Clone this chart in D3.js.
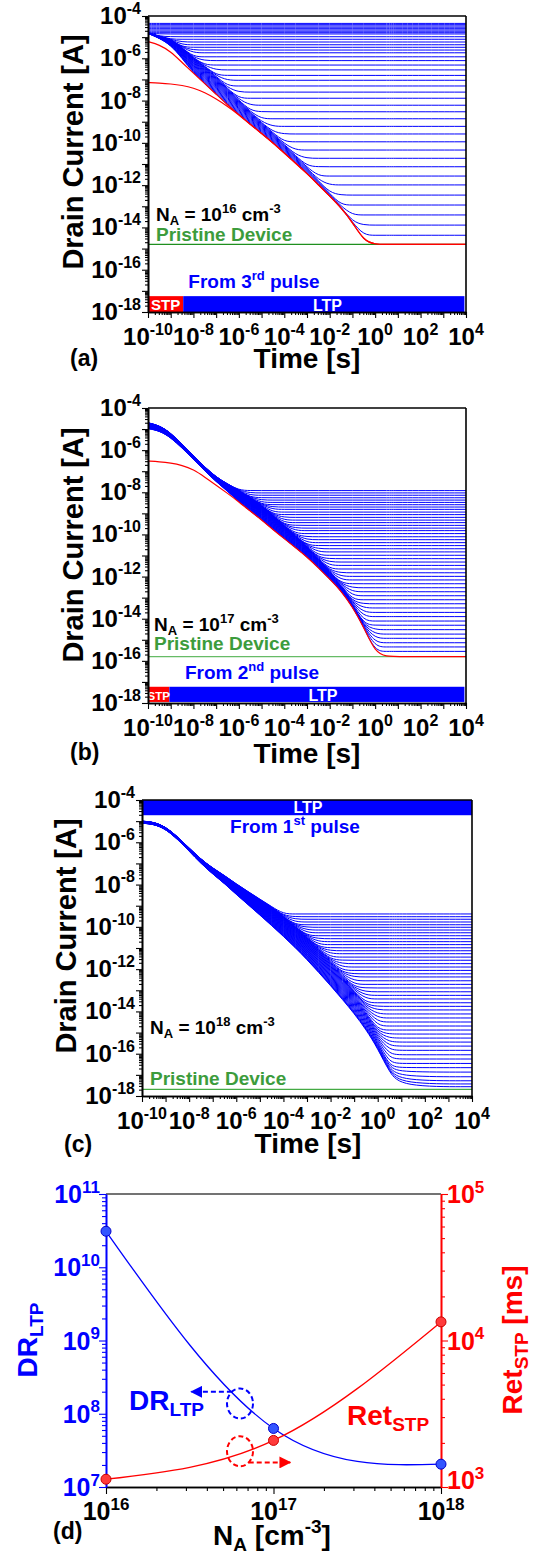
<!DOCTYPE html>
<html>
<head>
<meta charset="utf-8">
<script src="https://cdn.jsdelivr.net/npm/d3@7"></script>
<style>
  body { margin: 0; background: #fff; }
  svg { display: block; }
  text { font-family: "Liberation Sans", Arial, sans-serif; font-weight: bold; }
</style>
</head>
<body>
<svg id="chart" width="540" height="1557"></svg>
<script>
// ---- data (log10 of time [s] and log10 of drain current [A]) ----
const logT = [-10, -9.5, -9, -8.5, -8, -7.5, -7, -6.5, -6, -5.5, -5, -4.5, -4, -3.5, -3, -2.5, -2, -1.5, -1, -0.5, 0, 0.5, 1];

// (a) N_A = 1e16: lower / upper edge of the decaying bundle
const lowA = [-4.82, -5.05, -5.38, -6.0, -6.7, -7.2, -7.7, -8.2, -8.67, -9.12, -9.56, -10.0, -10.48, -10.96, -11.45, -11.98, -12.52, -13.07, -13.75, -14.63, -15.6, -16.8, -18];
const upA = [-4.80, -4.95, -5.08, -5.40, -5.80, -6.10, -6.50, -7.00, -7.47, -8.02, -8.46, -8.90, -9.38, -9.86, -10.35, -10.98, -11.62, -12.27, -13.15, -14.23, -15.30, -16.60, -17.80];
const stp1A = [-7.15, -7.17, -7.21, -7.28, -7.4, -7.62, -7.92, -8.27];
const stp2A = [-5.21, -5.36, -5.68, -6.2];
const ltpA = [-4.35, -4.41, -4.47, -4.53, -4.60, -4.66, -4.72, -4.79, -4.85, -4.98, -5.10, -5.23, -5.36, -5.48, -5.61, -5.74, -5.93, -6.11, -6.32, -6.55, -6.81, -7.04, -7.31, -7.60, -7.89, -8.22, -8.53, -8.86, -9.22, -9.58, -9.95, -10.34, -10.73, -11.13, -11.57, -11.99, -12.47, -12.94, -13.41, -13.89, -14.37];
const pristineA = -14.8;

// (b) N_A = 1e17
const lowB = [-4.98, -5.08, -5.4, -5.9, -6.43, -6.98, -7.5, -7.95, -8.45, -8.9, -9.3, -9.77, -10.2, -10.63, -11.07, -11.58, -12.12, -12.68, -13.43, -14.4, -15.6, -17.0, -18.3];
const upB = [-4.70, -4.83, -5.18, -5.72, -6.27, -6.80, -7.28, -7.60, -7.90, -8.20, -8.50, -8.92, -9.35, -9.78, -10.22, -10.73, -11.27, -11.83, -12.58, -13.60, -14.90, -16.50, -17.90];
const stp1B = [-6.52, -6.55, -6.61, -6.72, -6.92, -7.28, -7.66, -8.05];
const ltpB = [-7.92, -8.03, -8.14, -8.26, -8.37, -8.48, -8.59, -8.70, -8.81, -8.94, -9.06, -9.19, -9.32, -9.44, -9.57, -9.70, -9.82, -9.96, -10.11, -10.25, -10.39, -10.53, -10.68, -10.83, -10.99, -11.15, -11.31, -11.47, -11.64, -11.82, -11.99, -12.16, -12.34, -12.53, -12.72, -12.91, -13.10, -13.29, -13.49, -13.70, -13.90, -14.11, -14.31, -14.52, -14.73, -14.93, -15.14, -15.34, -15.55];
const pristineB = -15.8;

// (c) N_A = 1e18
const lowC = [-5.1, -5.14, -5.37, -5.85, -6.42, -7.0, -7.5, -7.95, -8.47, -8.95, -9.44, -9.94, -10.45, -10.98, -11.55, -12.16, -12.78, -13.43, -14.1, -14.85, -15.75, -16.9, -18.1];
const upC = [-5.00, -5.04, -5.27, -5.73, -6.27, -6.80, -7.22, -7.57, -7.97, -8.33, -8.69, -9.04, -9.45, -9.83, -10.25, -10.66, -11.08, -11.48, -11.90, -12.35, -13.15, -14.40, -15.70];
const ltpC = [-9.39, -9.52, -9.64, -9.77, -9.90, -10.02, -10.15, -10.28, -10.42, -10.56, -10.70, -10.84, -10.99, -11.13, -11.27, -11.43, -11.58, -11.74, -11.90, -12.06, -12.22, -12.37, -12.55, -12.72, -12.89, -13.07, -13.24, -13.41, -13.59, -13.76, -13.93, -14.12, -14.31, -14.50, -14.69, -14.88, -15.07, -15.26, -15.45, -15.64, -15.84, -16.05, -16.25, -16.46, -16.66, -16.87, -17.09, -17.28, -17.43, -17.56];
const pristineC = -17.69;

// (d) summary
const dopings = [1e16, 1e17, 1e18];
const drLTP = [3.1e10, 6.3e7, 2.05e7];
const retSTP = [1130, 2080, 13400]; // ms

const BLUE = "#0000ff", RED = "#ff0000";
const svg = d3.select("#chart");

// text with super/subscript parts: "abc" or ["x", "sup"|"sub"]
function rich(g, x, y, parts, fs, anchor, color) {
  const t = g.append("text")
    .attr("x", x).attr("y", y)
    .attr("font-size", fs)
    .attr("text-anchor", anchor || "start")
    .attr("fill", color || "#000");
  let off = 0;
  parts.forEach(p => {
    const [s, kind] = Array.isArray(p) ? p : [p, null];
    const target = kind === "sup" ? -0.42 * fs : kind === "sub" ? 0.22 * fs : 0;
    t.append("tspan")
      .attr("dy", target - off)
      .attr("font-size", kind ? Math.round(fs * 0.67) : fs)
      .text(s);
    off = target;
  });
  return t;
}

function minorTicks(e0, e1) {
  const out = [];
  for (let e = e0; e < e1; e++) for (let k = 2; k <= 9; k++) out.push(k * Math.pow(10, e));
  return out;
}

function styleAxis(sel, color) {
  sel.attr("color", color || "#000");
  sel.select(".domain").attr("stroke-width", 1.6);
  sel.selectAll(".tick line").attr("stroke-width", 1.1);
}

const panels = [
  {
    id: "a", box: { l: 148, r: 466, t: 16, b: 312 },
    low: lowA, up: upA, ltp: ltpA, stp: [stp1A, stp2A], pristine: pristineA, green: "#1f8f1f",
    yTitle: [83, 152], tag: [70, 366], xTitle: [307, 368],
    na: [156, 221, "16"], pris: [156, 241],
    pulse: [254, 288, "3", "rd"],
    bar: { pos: "bottom", top: -17.25, bot: -18, stpEnd: -8.45, end: 3.93, stpFs: 15, ltpAt: -2.1, ltpFs: 16 }
  },
  {
    id: "b", box: { l: 148, r: 466, t: 408, b: 703 },
    low: lowB, up: upB, ltp: ltpB, stp: [stp1B], pristine: pristineB, green: "#66bb66",
    yTitle: [83, 545], tag: [70, 760], xTitle: [307, 763],
    na: [154, 631, "17"], pris: [154, 650],
    pulse: [252, 679, "2", "nd"],
    bar: { pos: "bottom", top: -17.23, bot: -17.95, stpEnd: -9.06, end: 3.93, stpFs: 11.5, ltpAt: -2.3, ltpFs: 16 }
  },
  {
    id: "c", box: { l: 142, r: 472, t: 800, b: 1096 },
    low: lowC, up: upC, ltp: ltpC, stp: [], pristine: pristineC, green: "#44aa44",
    yTitle: [76, 936], tag: [64, 1152], xTitle: [308, 1153],
    na: [150, 1034, "18"], pris: [150, 1085],
    pulse: [295, 833, "1", "st"],
    bar: { pos: "top", top: -4, bot: -4.72, ltpAt: -2.96, ltpFs: 16 }
  }
];

panels.forEach(cfg => {
  const { l, r, t, b } = cfg.box;
  const x = d3.scaleLog().domain([1e-10, 1e4]).range([l, r]);
  const y = d3.scaleLog().domain([1e-18, 1e-4]).range([b, t]);
  const g = svg.append("g");

  svg.append("clipPath").attr("id", "clip-" + cfg.id)
    .append("rect").attr("x", l).attr("y", t).attr("width", r - l).attr("height", b - t);
  const plot = g.append("g").attr("clip-path", `url(#clip-${cfg.id})`);

  const line = d3.line()
    .x(d => x(Math.pow(10, d[0])))
    .y(d => y(Math.pow(10, d[1])))
    .curve(d3.curveBasis);

  // STP / LTP bars
  const bar = cfg.bar;
  if (bar.pos === "bottom") {
    plot.append("rect")
      .attr("x", x(1e-10)).attr("y", y(Math.pow(10, bar.top)))
      .attr("width", x(Math.pow(10, bar.stpEnd)) - x(1e-10))
      .attr("height", y(Math.pow(10, bar.bot)) - y(Math.pow(10, bar.top)))
      .attr("fill", RED);
    plot.append("rect")
      .attr("x", x(Math.pow(10, bar.stpEnd))).attr("y", y(Math.pow(10, bar.top)))
      .attr("width", x(Math.pow(10, bar.end)) - x(Math.pow(10, bar.stpEnd)))
      .attr("height", y(Math.pow(10, bar.bot)) - y(Math.pow(10, bar.top)))
      .attr("fill", BLUE);
    g.append("text")
      .attr("x", (x(1e-10) + x(Math.pow(10, bar.stpEnd))) / 2)
      .attr("y", y(Math.pow(10, bar.bot)) - 2)
      .attr("text-anchor", "middle").attr("font-size", bar.stpFs).attr("fill", "#fff")
      .text("STP");
    g.append("text")
      .attr("x", x(Math.pow(10, bar.ltpAt)))
      .attr("y", y(Math.pow(10, bar.bot)) - 1)
      .attr("text-anchor", "middle").attr("font-size", bar.ltpFs).attr("fill", "#fff")
      .text("LTP");
  } else {
    plot.append("rect")
      .attr("x", x(1e-10)).attr("y", y(Math.pow(10, bar.top)))
      .attr("width", x(1e4) - x(1e-10))
      .attr("height", y(Math.pow(10, bar.bot)) - y(Math.pow(10, bar.top)))
      .attr("fill", BLUE);
    g.append("text")
      .attr("x", x(Math.pow(10, bar.ltpAt)))
      .attr("y", y(Math.pow(10, bar.bot)) - 2)
      .attr("text-anchor", "middle").attr("font-size", bar.ltpFs).attr("fill", "#fff")
      .text("LTP");
  }

  // pristine device level
  plot.append("path")
    .datum([[-10, cfg.pristine], [4, cfg.pristine]])
    .attr("d", d3.line().x(d => x(Math.pow(10, d[0]))).y(d => y(Math.pow(10, d[1]))))
    .attr("fill", "none").attr("stroke", cfg.green).attr("stroke-width", 1.3);

  // LTP curves: decay inside the bundle, then flat at the retained level
  const pTop = cfg.ltp[0], pBot = cfg.ltp[cfg.ltp.length - 1];
  cfg.ltp.forEach(p => {
    const f = (pTop - p) / (pTop - pBot);
    const pts = logT.map((tt, k) => [tt, Math.max(cfg.up[k] + f * (cfg.low[k] - cfg.up[k]), p)]);
    pts.push([4, p]);
    plot.append("path").datum(pts).attr("d", line)
      .attr("fill", "none").attr("stroke", BLUE).attr("stroke-width", 1);
  });

  // STP curves: own early decay, then bundle lower edge, down to pristine
  cfg.stp.forEach(s => {
    const pts = logT.map((tt, k) => [tt, Math.max(k < s.length ? s[k] : cfg.low[k], cfg.pristine)]);
    pts.push([4, cfg.pristine]);
    plot.append("path").datum(pts).attr("d", line)
      .attr("fill", "none").attr("stroke", RED).attr("stroke-width", 1.2);
  });

  // axes
  const xAx = g.append("g").attr("transform", `translate(0,${b})`)
    .call(d3.axisBottom(x).tickValues(d3.range(-10, 5).map(e => Math.pow(10, e)))
      .tickSize(6).tickSizeOuter(0).tickFormat(""));
  styleAxis(xAx);
  styleAxis(g.append("g").attr("transform", `translate(0,${b})`)
    .call(d3.axisBottom(x).tickValues(minorTicks(-10, 4)).tickSize(3).tickSizeOuter(0).tickFormat("")));
  const yAx = g.append("g").attr("transform", `translate(${l},0)`)
    .call(d3.axisLeft(y).tickValues(d3.range(-18, -3).map(e => Math.pow(10, e)))
      .tickSize(6).tickSizeOuter(0).tickFormat(""));
  styleAxis(yAx);
  styleAxis(g.append("g").attr("transform", `translate(${l},0)`)
    .call(d3.axisLeft(y).tickValues(minorTicks(-18, -4)).tickSize(3).tickSizeOuter(0).tickFormat("")));
  g.append("line").attr("x1", l).attr("x2", r).attr("y1", t).attr("y2", t)
    .attr("stroke", "#000").attr("stroke-width", 1.6);
  g.append("line").attr("x1", r).attr("x2", r).attr("y1", t).attr("y2", b)
    .attr("stroke", "#000").attr("stroke-width", 1.6);

  // tick labels
  d3.range(-10, 5, 2).forEach(e => rich(g, x(Math.pow(10, e)), b + 33, ["10", [String(e), "sup"]], 24, "middle"));
  d3.range(-18, -3, 2).forEach(e => rich(g, l - 7, y(Math.pow(10, e)) + 8, ["10", [String(e), "sup"]], 24, "end"));

  // titles
  g.append("text")
    .attr("transform", `translate(${cfg.yTitle[0]},${cfg.yTitle[1]}) rotate(-90)`)
    .attr("text-anchor", "middle").attr("font-size", 29)
    .text("Drain Current [A]");
  g.append("text").attr("x", cfg.xTitle[0]).attr("y", cfg.xTitle[1])
    .attr("text-anchor", "middle").attr("font-size", 28).text("Time [s]");
  g.append("text").attr("x", cfg.tag[0]).attr("y", cfg.tag[1])
    .attr("font-size", 23).text(`(${cfg.id})`);

  // annotations
  rich(g, cfg.na[0], cfg.na[1], ["N", ["A", "sub"], " = 10", [cfg.na[2], "sup"], " cm", ["-3", "sup"]], 19);
  g.append("text").attr("x", cfg.pris[0]).attr("y", cfg.pris[1])
    .attr("font-size", 19).attr("fill", "#3c9c3c").text("Pristine Device");
  rich(g, cfg.pulse[0], cfg.pulse[1], ["From " + cfg.pulse[2], [cfg.pulse[3], "sup"], " pulse"], 19, "middle", BLUE);
});

// ---- panel (d) ----
(function () {
  const l = 106, r = 441, t = 1194, b = 1487;
  const x = d3.scaleLog().domain([1e16, 1e18]).range([l, r]);
  const yL = d3.scaleLog().domain([1e7, 1e11]).range([b, t]);
  const yR = d3.scaleLog().domain([1e3, 1e5]).range([b, t]);
  const g = svg.append("g");

  g.append("line").attr("x1", l).attr("x2", r).attr("y1", t).attr("y2", t)
    .attr("stroke", "#444").attr("stroke-width", 1.6);

  const bx = g.append("g").attr("transform", `translate(0,${b})`)
    .call(d3.axisBottom(x).tickValues([1e16, 1e17, 1e18]).tickSize(7).tickSizeOuter(0).tickFormat(""));
  styleAxis(bx);
  styleAxis(g.append("g").attr("transform", `translate(0,${b})`)
    .call(d3.axisBottom(x).tickValues(minorTicks(16, 18)).tickSize(4).tickSizeOuter(0).tickFormat("")));

  styleAxis(g.append("g").attr("transform", `translate(${l},0)`)
    .call(d3.axisLeft(yL).tickValues([1e7, 1e8, 1e9, 1e10, 1e11]).tickSize(7).tickSizeOuter(0).tickFormat("")), BLUE);
  styleAxis(g.append("g").attr("transform", `translate(${l},0)`)
    .call(d3.axisLeft(yL).tickValues(minorTicks(7, 11)).tickSize(4).tickSizeOuter(0).tickFormat("")), BLUE);
  styleAxis(g.append("g").attr("transform", `translate(${r},0)`)
    .call(d3.axisRight(yR).tickValues([1e3, 1e4, 1e5]).tickSize(7).tickSizeOuter(0).tickFormat("")), RED);
  styleAxis(g.append("g").attr("transform", `translate(${r},0)`)
    .call(d3.axisRight(yR).tickValues(minorTicks(3, 5)).tickSize(4).tickSizeOuter(0).tickFormat("")), RED);

  [16, 17, 18].forEach(e => rich(g, x(Math.pow(10, e)), b + 33, ["10", [String(e), "sup"]], 25, "middle"));
  [7, 8, 9, 10, 11].forEach(e => rich(g, l - 6, yL(Math.pow(10, e)) + 9, ["10", [String(e), "sup"]], 25, "end", BLUE));
  // lowest right label sits a little higher, clear of the x labels
  [3, 4, 5].forEach(e => rich(g, r + 6, yR(Math.pow(10, e)) + (e === 3 ? 2 : 9), ["10", [String(e), "sup"]], 25, "start", RED));

  // curves
  const drPts = dopings.map((n, i) => [n, drLTP[i]]);
  const retPts = dopings.map((n, i) => [n, retSTP[i]]);
  g.append("path").datum(drPts)
    .attr("d", d3.line().x(d => x(d[0])).y(d => yL(d[1])).curve(d3.curveNatural))
    .attr("fill", "none").attr("stroke", BLUE).attr("stroke-width", 1.3);
  g.append("path").datum(retPts)
    .attr("d", d3.line().x(d => x(d[0])).y(d => yR(d[1])).curve(d3.curveNatural))
    .attr("fill", "none").attr("stroke", RED).attr("stroke-width", 1.3);
  g.selectAll(".dr").data(drPts).join("circle")
    .attr("cx", d => x(d[0])).attr("cy", d => yL(d[1])).attr("r", 5)
    .attr("fill", "#3355ff").attr("stroke", "#0000cc").attr("stroke-width", 1);
  g.selectAll(".ret").data(retPts).join("circle")
    .attr("cx", d => x(d[0])).attr("cy", d => yR(d[1])).attr("r", 5)
    .attr("fill", "#ff3b3b").attr("stroke", "#cc0000").attr("stroke-width", 1);

  // arrow markers
  const defs = svg.append("defs");
  [["arrB", BLUE], ["arrR", RED]].forEach(([id, c]) => {
    defs.append("marker").attr("id", id).attr("viewBox", "0 0 10 10")
      .attr("refX", 9).attr("refY", 5).attr("markerWidth", 6).attr("markerHeight", 6)
      .attr("markerUnits", "strokeWidth").attr("orient", "auto")
      .append("path").attr("d", "M0,0L10,5L0,10Z").attr("fill", c);
  });

  // dashed ellipses with arrows pointing to the relevant axis
  const rx = 13, ry = 15;
  const cxB = x(Math.pow(10, 16.8)), cyB = yL(Math.pow(10, 8.14));
  const cyR = yR(Math.pow(10, 3.244));
  g.append("ellipse").attr("cx", cxB).attr("cy", cyB).attr("rx", rx).attr("ry", ry)
    .attr("fill", "none").attr("stroke", BLUE).attr("stroke-width", 2).attr("stroke-dasharray", "5,3");
  g.append("ellipse").attr("cx", cxB).attr("cy", cyR).attr("rx", rx).attr("ry", ry)
    .attr("fill", "none").attr("stroke", RED).attr("stroke-width", 2).attr("stroke-dasharray", "5,3");
  const ayB = yL(Math.pow(10, 8.3)), ayR = yR(Math.pow(10, 3.168));
  const exB = rx * Math.sqrt(1 - Math.pow((ayB - cyB) / ry, 2));
  const exR = rx * Math.sqrt(1 - Math.pow((ayR - cyR) / ry, 2));
  g.append("line").attr("x1", cxB - exB).attr("y1", ayB).attr("x2", x(Math.pow(10, 16.51))).attr("y2", ayB)
    .attr("stroke", BLUE).attr("stroke-width", 2).attr("stroke-dasharray", "5,3")
    .attr("marker-end", "url(#arrB)");
  g.append("line").attr("x1", cxB + exR).attr("y1", ayR).attr("x2", x(Math.pow(10, 17.1))).attr("y2", ayR)
    .attr("stroke", RED).attr("stroke-width", 2).attr("stroke-dasharray", "5,3")
    .attr("marker-end", "url(#arrR)");

  rich(g, 129, 1410, ["DR", ["LTP", "sub"]], 28, "start", BLUE);
  rich(g, 347, 1425, ["Ret", ["STP", "sub"]], 28, "start", RED);

  // axis titles
  rich(g.append("g").attr("transform", "translate(37,1340) rotate(-90)"), 0, 0,
    ["DR", ["LTP", "sub"]], 28, "middle", BLUE);
  rich(g.append("g").attr("transform", "translate(522,1340) rotate(-90)"), 0, 0,
    ["Ret", ["STP", "sub"], " [ms]"], 28, "middle", RED);
  rich(g, 272, 1545, ["N", ["A", "sub"], " [cm", ["-3", "sup"], "]"], 28, "middle");
  g.append("text").attr("x", 53).attr("y", 1539).attr("font-size", 23).text("(d)");
})();
</script>
</body>
</html>
